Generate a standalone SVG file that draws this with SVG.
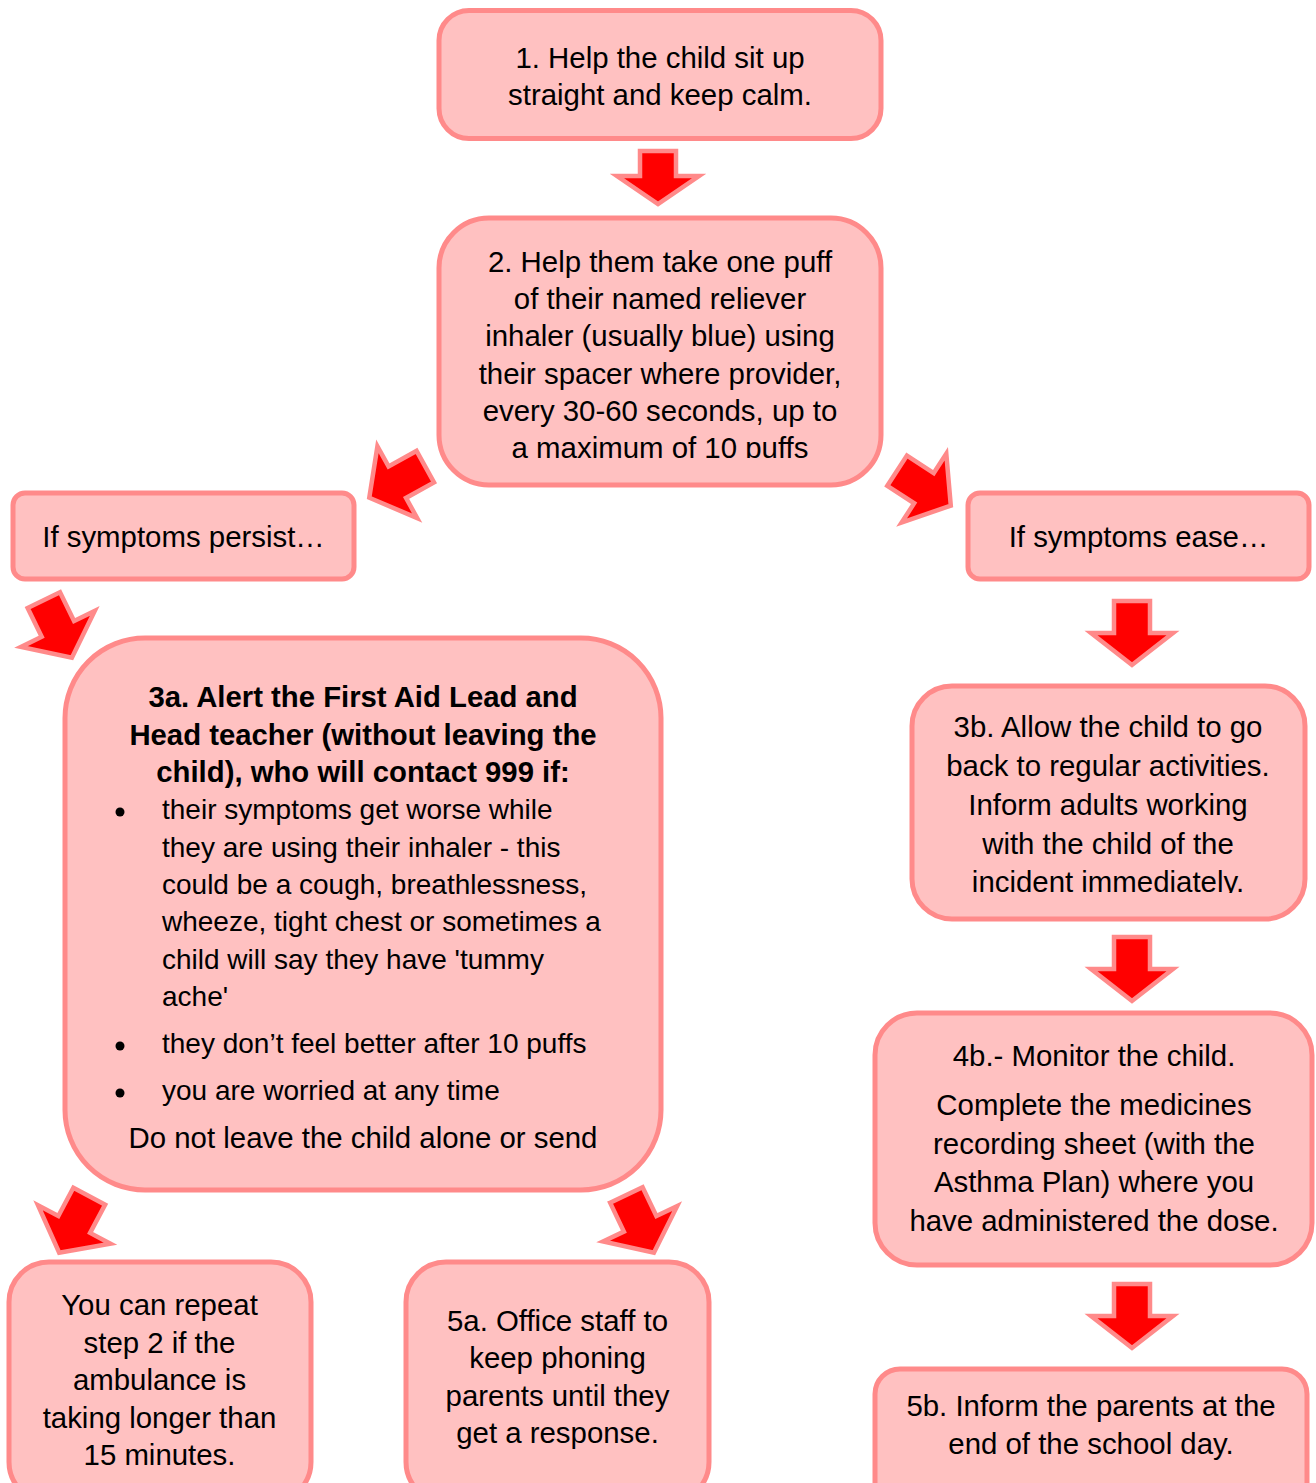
<svg xmlns="http://www.w3.org/2000/svg" xmlns:xlink="http://www.w3.org/1999/xlink" width="1316" height="1483" viewBox="0 0 1316 1483">
<style>
.box{fill:#FFC1C1;stroke:#FF8A8A;stroke-width:5}
.t{font-family:"Liberation Sans",Arial,sans-serif;font-size:29.4px;fill:#000;text-anchor:middle}
.b{font-weight:bold;font-size:29.3px}
.l{text-anchor:start;font-size:28px}
.arr{fill:#FF0000;stroke:#FF8A8A;stroke-width:4.5;stroke-linejoin:miter}
</style>
<defs>
<polygon id="dn" points="-18,-64 18,-64 18,-32 41,-32 0,0 -41,-32 -18,-32"/>
<clipPath id="c2"><rect x="430" y="220" width="460" height="238"/></clipPath>
<clipPath id="c3b"><rect x="900" y="690" width="420" height="203"/></clipPath>
</defs>
<rect width="1316" height="1483" fill="#fff"/>

<g id="connectors">
<polygon class="arr" points="640,151 676,151 676,176 699,176 658,204 617,176 640,176"/>
<use xlink:href="#dn" href="#dn" class="arr" transform="translate(369.3,497.7) rotate(61)"/>
<use xlink:href="#dn" href="#dn" class="arr" transform="translate(950.8,505.6) rotate(-57)"/>
<use xlink:href="#dn" href="#dn" class="arr" transform="translate(71.9,657.7) rotate(-26)"/>
<use xlink:href="#dn" href="#dn" class="arr" transform="translate(1132,665)"/>
<use xlink:href="#dn" href="#dn" class="arr" transform="translate(1132,1001)"/>
<use xlink:href="#dn" href="#dn" class="arr" transform="translate(1132,1348)"/>
<use xlink:href="#dn" href="#dn" class="arr" transform="translate(59.2,1252.7) rotate(28)"/>
<use xlink:href="#dn" href="#dn" class="arr" transform="translate(653.9,1252.7) rotate(-25.5)"/>
</g>

<g id="n1">
<rect class="box" x="439" y="10.5" width="442" height="128" rx="30"/>
<text class="t" x="660" y="68">1. Help the child sit up</text>
<text class="t" x="660" y="105">straight and keep calm.</text>
</g>

<g id="n2">
<rect class="box" x="439" y="218" width="442" height="267" rx="50"/>
<g clip-path="url(#c2)">
<text class="t" x="660" y="272">2. Help them take one puff</text>
<text class="t" x="660" y="309">of their named reliever</text>
<text class="t" x="660" y="346">inhaler (usually blue) using</text>
<text class="t" x="660" y="384">their spacer where provider,</text>
<text class="t" x="660" y="421">every 30-60 seconds, up to</text>
<text class="t" x="660" y="458">a maximum of 10 puffs</text>
</g>
</g>

<g id="persist">
<rect class="box" x="13" y="493" width="341" height="86" rx="12"/>
<text class="t" x="183.5" y="547">If symptoms persist…</text>
</g>

<g id="ease">
<rect class="box" x="968" y="493" width="341" height="86" rx="12"/>
<text class="t" x="1138.5" y="547">If symptoms ease…</text>
</g>

<g id="n3a">
<rect class="box" x="65" y="638" width="596" height="552" rx="80"/>
<text class="t b" x="363" y="707">3a. Alert the First Aid Lead and</text>
<text class="t b" x="363" y="745">Head teacher (without leaving the</text>
<text class="t b" x="363" y="782">child), who will contact 999 if:</text>
<circle cx="120" cy="812" r="4.5"/>
<text class="t l" x="162" y="819">their symptoms get worse while</text>
<text class="t l" x="162" y="857">they are using their inhaler - this</text>
<text class="t l" x="162" y="894">could be a cough, breathlessness,</text>
<text class="t l" x="162" y="931">wheeze, tight chest or sometimes a</text>
<text class="t l" x="162" y="969">child will say they have 'tummy</text>
<text class="t l" x="162" y="1006">ache'</text>
<circle cx="120" cy="1046" r="4.5"/>
<text class="t l" x="162" y="1053">they don’t feel better after 10 puffs</text>
<circle cx="120" cy="1093" r="4.5"/>
<text class="t l" x="162" y="1100">you are worried at any time</text>
<text class="t" x="363" y="1148">Do not leave the child alone or send</text>
</g>

<g id="n3b">
<rect class="box" x="912" y="686" width="393" height="233" rx="40"/>
<g clip-path="url(#c3b)">
<text class="t" x="1108" y="737">3b. Allow the child to go</text>
<text class="t" x="1108" y="776">back to regular activities.</text>
<text class="t" x="1108" y="815">Inform adults working</text>
<text class="t" x="1108" y="854">with the child of the</text>
<text class="t" x="1108" y="892">incident immediately.</text>
</g>
</g>

<g id="n4b">
<rect class="box" x="875" y="1013" width="437" height="252" rx="42"/>
<text class="t" x="1094" y="1066">4b.- Monitor the child.</text>
<text class="t" x="1094" y="1115">Complete the medicines</text>
<text class="t" x="1094" y="1154">recording sheet (with the</text>
<text class="t" x="1094" y="1192">Asthma Plan) where you</text>
<text class="t" x="1094" y="1231">have administered the dose.</text>
</g>

<g id="repeat">
<rect class="box" x="9" y="1262" width="302" height="240" rx="40"/>
<text class="t" x="159.5" y="1315">You can repeat</text>
<text class="t" x="159.5" y="1353">step 2 if the</text>
<text class="t" x="159.5" y="1390">ambulance is</text>
<text class="t" x="159.5" y="1428">taking longer than</text>
<text class="t" x="159.5" y="1465">15 minutes.</text>
</g>

<g id="n5a">
<rect class="box" x="406" y="1262" width="303" height="240" rx="40"/>
<text class="t" x="557.5" y="1331">5a. Office staff to</text>
<text class="t" x="557.5" y="1368">keep phoning</text>
<text class="t" x="557.5" y="1406">parents until they</text>
<text class="t" x="557.5" y="1443">get a response.</text>
</g>

<g id="n5b">
<rect class="box" x="875" y="1369" width="432" height="140" rx="25"/>
<text class="t" x="1091" y="1416">5b. Inform the parents at the</text>
<text class="t" x="1091" y="1454">end of the school day.</text>
</g>
</svg>
